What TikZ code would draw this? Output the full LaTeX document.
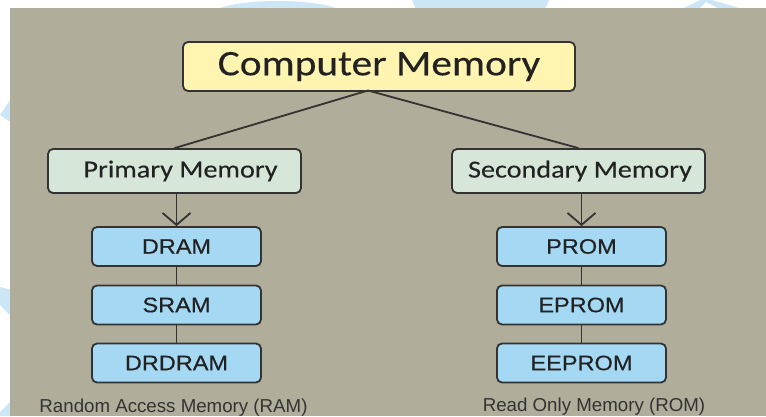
\documentclass[tikz,border=0pt]{standalone}
\usepackage{fontspec}
\setmainfont{Carlito}[FakeStretch=1.15, FakeBold=0.3]
\newfontfamily\arialf{Liberation Sans}[FakeStretch=1.12, FakeBold=0.4]
\newfontfamily\labelf{Liberation Sans}
\usetikzlibrary{arrows.meta}
\definecolor{bggray}{HTML}{B0AE9B}
\definecolor{wmblue}{HTML}{CDE6F6}
\definecolor{yelfill}{HTML}{FFF5B0}
\definecolor{grnfill}{HTML}{D6E6D8}
\definecolor{blufill}{HTML}{A5D8F3}
\definecolor{edge}{HTML}{333333}
\definecolor{txt}{HTML}{222222}
\begin{document}
\begin{tikzpicture}[x=1pt,y=-1pt,
  basebox/.style={draw=edge, line width=1.8pt, rounded corners=5pt, inner sep=0pt, text=txt},
  topbox/.style={basebox, fill=yelfill, minimum width=392pt, minimum height=49pt, font=\fontsize{36}{40}\selectfont},
  midbox/.style={basebox, fill=grnfill, minimum width=253pt, minimum height=44pt, font=\fontsize{24.5}{28}\selectfont},
  membox/.style={basebox, fill=blufill, minimum width=169pt, minimum height=39pt, font=\arialf\fontsize{21}{25}\selectfont},
  lbl/.style={inner sep=0pt, anchor=base, text=edge, font=\labelf\fontsize{18.7}{22}\selectfont},
  conn/.style={draw=edge, line width=1.8pt},
  arr/.style={conn, -{Straight Barb[length=12pt, width=28pt, line width=1.8pt]}}
]
\useasboundingbox (0,0) rectangle (766,416);
\fill[white] (0,0) rectangle (766,416);
% faint watermark in the margins
\fill[wmblue] (215,10) .. controls (240,-2) and (315,-2) .. (341,10) -- cycle;
\fill[wmblue] (412,0) -- (549,0) -- (545,10) -- (416,10) -- cycle;
\fill[wmblue] (680,10) -- (700,0) -- (712,0) -- (746,10) -- (722,10) -- (706,2) -- (698,10) -- cycle;
\fill[wmblue] (0,115) -- (12,97) -- (12,123) -- cycle;
\fill[wmblue] (0,287) -- (12,290) -- (12,317) -- (0,305) -- cycle;
\fill[wmblue] (0,412) -- (12,400) -- (12,416) -- (0,416) -- cycle;
\fill[bggray] (10,8) rectangle (766,416);

\node[topbox] (cm) at (379,66.5) {Computer Memory};
\node[midbox] (pm) at (174.5,171) {\hspace*{12pt}Primary Memory};
\node[midbox] (sm) at (578.5,171) {\hspace*{3pt}Secondary Memory};

\node[membox] (dram) at (176.5,246.5) {DRAM};
\node[membox] (sram) at (176.5,305) {SRAM};
\node[membox] (drdram) at (176.5,363) {DRDRAM};

\node[membox] (prom) at (581.5,246.5) {PROM};
\node[membox] (eprom) at (581.5,305) {EPROM};
\node[membox] (eeprom) at (581.5,363) {EEPROM};

\node[lbl] (ram) at (173.5,412) {Random Access Memory (RAM)};
\node[lbl] (rom) at (594,411.5) {Read Only Memory (ROM)};

\coordinate (j) at (368,90.5);
\draw[conn] (j) -- (pm.north);
\draw[conn] (j) -- (sm.north);
\draw[arr] (pm.south -| dram.north) -- (dram.north);
\draw[arr] (sm.south -| prom.north) -- (prom.north);
\draw[conn] (dram) -- (sram);
\draw[conn] (sram) -- (drdram);
\draw[conn] (prom) -- (eprom);
\draw[conn] (eprom) -- (eeprom);
\end{tikzpicture}
\end{document}
